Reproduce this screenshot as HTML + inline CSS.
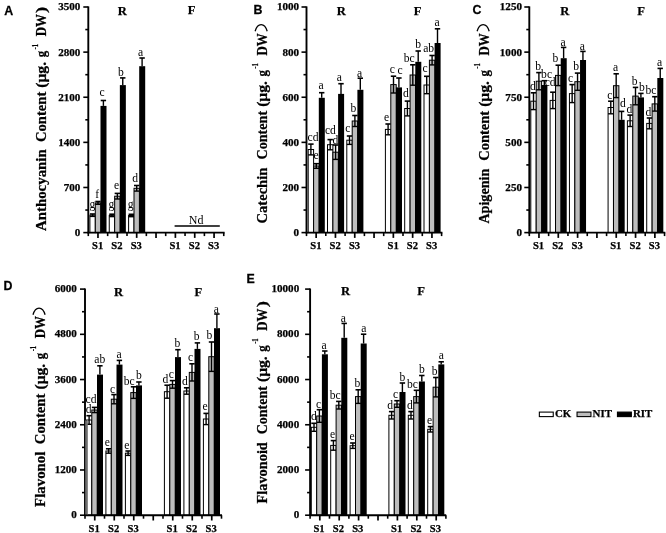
<!DOCTYPE html>
<html><head><meta charset="utf-8"><title>Figure</title>
<style>
html,body{margin:0;padding:0;background:#fff;}
body{width:666px;height:533px;overflow:hidden;}
svg{display:block;filter:blur(0.5px);}
.ser{font-family:"Liberation Serif",serif;}
.sans{font-family:"Liberation Sans",sans-serif;}
text{fill:#000;}
.b{stroke:#000;stroke-width:0.25px;}
</style></head>
<body>
<svg width="666" height="533" viewBox="0 0 666 533">
<rect x="0" y="0" width="666" height="533" fill="#fff"/>
<rect x="89.9" y="215.2" width="5.4" height="17.4" fill="#fff" stroke="#000" stroke-width="1.0"/>
<line x1="92.6" y1="214" x2="92.6" y2="216.4" stroke="#000" stroke-width="1.4"/>
<line x1="89.9" y1="214" x2="95.3" y2="214" stroke="#000" stroke-width="1.6"/>
<line x1="89.9" y1="216.4" x2="95.3" y2="216.4" stroke="#000" stroke-width="1.4"/>
<rect x="95.3" y="202.9" width="5.4" height="29.7" fill="#bdbdbd" stroke="#000" stroke-width="1.0"/>
<line x1="98" y1="201.5" x2="98" y2="204.3" stroke="#000" stroke-width="1.4"/>
<line x1="95.3" y1="201.5" x2="100.7" y2="201.5" stroke="#000" stroke-width="1.6"/>
<line x1="95.3" y1="204.3" x2="100.7" y2="204.3" stroke="#000" stroke-width="1.4"/>
<rect x="100.5" y="105.9" width="6" height="126.7" fill="#000"/>
<line x1="103.4" y1="100.5" x2="103.4" y2="105.9" stroke="#000" stroke-width="1.4"/>
<line x1="100.7" y1="100.5" x2="106.1" y2="100.5" stroke="#000" stroke-width="1.6"/>
<rect x="109.25" y="215.4" width="5.4" height="17.2" fill="#fff" stroke="#000" stroke-width="1.0"/>
<line x1="111.95" y1="214.2" x2="111.95" y2="216.6" stroke="#000" stroke-width="1.4"/>
<line x1="109.25" y1="214.2" x2="114.65" y2="214.2" stroke="#000" stroke-width="1.6"/>
<line x1="109.25" y1="216.6" x2="114.65" y2="216.6" stroke="#000" stroke-width="1.4"/>
<rect x="114.65" y="196.2" width="5.4" height="36.4" fill="#bdbdbd" stroke="#000" stroke-width="1.0"/>
<line x1="117.35" y1="193.4" x2="117.35" y2="199" stroke="#000" stroke-width="1.4"/>
<line x1="114.65" y1="193.4" x2="120.05" y2="193.4" stroke="#000" stroke-width="1.6"/>
<line x1="114.65" y1="199" x2="120.05" y2="199" stroke="#000" stroke-width="1.4"/>
<rect x="119.85" y="85.1" width="6" height="147.5" fill="#000"/>
<line x1="122.75" y1="77.9" x2="122.75" y2="85.1" stroke="#000" stroke-width="1.4"/>
<line x1="120.05" y1="77.9" x2="125.45" y2="77.9" stroke="#000" stroke-width="1.6"/>
<rect x="128.6" y="215.5" width="5.4" height="17.1" fill="#fff" stroke="#000" stroke-width="1.0"/>
<line x1="131.3" y1="214.3" x2="131.3" y2="216.7" stroke="#000" stroke-width="1.4"/>
<line x1="128.6" y1="214.3" x2="134" y2="214.3" stroke="#000" stroke-width="1.6"/>
<line x1="128.6" y1="216.7" x2="134" y2="216.7" stroke="#000" stroke-width="1.4"/>
<rect x="134" y="188.3" width="5.4" height="44.3" fill="#bdbdbd" stroke="#000" stroke-width="1.0"/>
<line x1="136.7" y1="185.5" x2="136.7" y2="191.1" stroke="#000" stroke-width="1.4"/>
<line x1="134" y1="185.5" x2="139.4" y2="185.5" stroke="#000" stroke-width="1.6"/>
<line x1="134" y1="191.1" x2="139.4" y2="191.1" stroke="#000" stroke-width="1.4"/>
<rect x="139.2" y="66.2" width="6" height="166.4" fill="#000"/>
<line x1="142.1" y1="58" x2="142.1" y2="66.2" stroke="#000" stroke-width="1.4"/>
<line x1="139.4" y1="58" x2="144.8" y2="58" stroke="#000" stroke-width="1.6"/>
<line x1="88.3" y1="6.4" x2="88.3" y2="233.35" stroke="#000" stroke-width="1.9"/>
<line x1="87.55" y1="232.6" x2="224.6" y2="232.6" stroke="#000" stroke-width="1.9"/>
<line x1="83.3" y1="232.6" x2="88.3" y2="232.6" stroke="#000" stroke-width="1.6"/>
<text x="80.4" y="236.05" font-size="10.6" class="ser b" font-weight="bold" text-anchor="end" textLength="5.55" lengthAdjust="spacingAndGlyphs">0</text>
<line x1="85.3" y1="210.04" x2="88.3" y2="210.04" stroke="#000" stroke-width="1.6"/>
<line x1="83.3" y1="187.48" x2="88.3" y2="187.48" stroke="#000" stroke-width="1.6"/>
<text x="80.4" y="190.93" font-size="10.6" class="ser b" font-weight="bold" text-anchor="end" textLength="16.65" lengthAdjust="spacingAndGlyphs">700</text>
<line x1="85.3" y1="164.92" x2="88.3" y2="164.92" stroke="#000" stroke-width="1.6"/>
<line x1="83.3" y1="142.36" x2="88.3" y2="142.36" stroke="#000" stroke-width="1.6"/>
<text x="80.4" y="145.81" font-size="10.6" class="ser b" font-weight="bold" text-anchor="end" textLength="22.2" lengthAdjust="spacingAndGlyphs">1400</text>
<line x1="85.3" y1="119.8" x2="88.3" y2="119.8" stroke="#000" stroke-width="1.6"/>
<line x1="83.3" y1="97.24" x2="88.3" y2="97.24" stroke="#000" stroke-width="1.6"/>
<text x="80.4" y="100.69" font-size="10.6" class="ser b" font-weight="bold" text-anchor="end" textLength="22.2" lengthAdjust="spacingAndGlyphs">2100</text>
<line x1="85.3" y1="74.68" x2="88.3" y2="74.68" stroke="#000" stroke-width="1.6"/>
<line x1="83.3" y1="52.12" x2="88.3" y2="52.12" stroke="#000" stroke-width="1.6"/>
<text x="80.4" y="55.57" font-size="10.6" class="ser b" font-weight="bold" text-anchor="end" textLength="22.2" lengthAdjust="spacingAndGlyphs">2800</text>
<line x1="85.3" y1="29.56" x2="88.3" y2="29.56" stroke="#000" stroke-width="1.6"/>
<line x1="83.3" y1="7" x2="88.3" y2="7" stroke="#000" stroke-width="1.6"/>
<text x="80.4" y="10.45" font-size="10.6" class="ser b" font-weight="bold" text-anchor="end" textLength="22.2" lengthAdjust="spacingAndGlyphs">3500</text>
<line x1="88.3" y1="232.6" x2="88.3" y2="236.1" stroke="#000" stroke-width="1.6"/>
<line x1="97.97" y1="232.6" x2="97.97" y2="237.9" stroke="#000" stroke-width="1.7"/>
<line x1="107.65" y1="232.6" x2="107.65" y2="236.1" stroke="#000" stroke-width="1.6"/>
<line x1="117.33" y1="232.6" x2="117.33" y2="237.9" stroke="#000" stroke-width="1.7"/>
<line x1="127" y1="232.6" x2="127" y2="236.1" stroke="#000" stroke-width="1.6"/>
<line x1="136.68" y1="232.6" x2="136.68" y2="237.9" stroke="#000" stroke-width="1.7"/>
<line x1="146.35" y1="232.6" x2="146.35" y2="236.1" stroke="#000" stroke-width="1.6"/>
<line x1="156.03" y1="232.6" x2="156.03" y2="237.9" stroke="#000" stroke-width="1.7"/>
<line x1="165.7" y1="232.6" x2="165.7" y2="236.1" stroke="#000" stroke-width="1.6"/>
<line x1="175.38" y1="232.6" x2="175.38" y2="237.9" stroke="#000" stroke-width="1.7"/>
<line x1="185.05" y1="232.6" x2="185.05" y2="236.1" stroke="#000" stroke-width="1.6"/>
<line x1="194.73" y1="232.6" x2="194.73" y2="237.9" stroke="#000" stroke-width="1.7"/>
<line x1="204.4" y1="232.6" x2="204.4" y2="236.1" stroke="#000" stroke-width="1.6"/>
<line x1="214.07" y1="232.6" x2="214.07" y2="237.9" stroke="#000" stroke-width="1.7"/>
<line x1="223.75" y1="232.6" x2="223.75" y2="236.1" stroke="#000" stroke-width="1.6"/>
<text x="97.6" y="249.3" font-size="10.6" class="ser b" font-weight="bold" text-anchor="middle">S1</text>
<text x="116.95" y="249.3" font-size="10.6" class="ser b" font-weight="bold" text-anchor="middle">S2</text>
<text x="136.3" y="249.3" font-size="10.6" class="ser b" font-weight="bold" text-anchor="middle">S3</text>
<text x="175" y="249.3" font-size="10.6" class="ser b" font-weight="bold" text-anchor="middle">S1</text>
<text x="194.35" y="249.3" font-size="10.6" class="ser b" font-weight="bold" text-anchor="middle">S2</text>
<text x="213.7" y="249.3" font-size="10.6" class="ser b" font-weight="bold" text-anchor="middle">S3</text>
<text x="122.3" y="15" font-size="12.6" class="ser b" font-weight="bold" text-anchor="middle">R</text>
<text x="191.5" y="13.8" font-size="12.6" class="ser b" font-weight="bold" text-anchor="middle">F</text>
<text transform="translate(4.2,14.7) scale(1,1.03)" font-size="12.4" class="sans b" font-weight="bold">A</text>
<text transform="translate(46.3,231.05) rotate(-90)" font-size="14.5" class="ser b" font-weight="bold" textLength="81.8" lengthAdjust="spacingAndGlyphs">Anthocyanin</text>
<text transform="translate(46.3,141.95) rotate(-90)" font-size="14.5" class="ser b" font-weight="bold" textLength="50.2" lengthAdjust="spacingAndGlyphs">Content</text>
<text transform="translate(46.3,87.75) rotate(-90)" font-size="14.5" class="ser b" font-weight="bold" textLength="25.8" lengthAdjust="spacingAndGlyphs">(μg.</text>
<text transform="translate(46.3,57.35) rotate(-90)" font-size="14.5" class="ser b" font-weight="bold" textLength="6.4" lengthAdjust="spacingAndGlyphs">g</text>
<text transform="translate(37.7,49.55) rotate(-90)" font-size="9.2" class="ser b" font-weight="bold" textLength="5.5" lengthAdjust="spacingAndGlyphs">-1</text>
<text transform="translate(46.3,36.35) rotate(-90)" font-size="14.5" class="ser b" font-weight="bold" textLength="22.1" lengthAdjust="spacingAndGlyphs">DW</text>
<text transform="translate(46.3,12.95) rotate(-90)" font-size="14.5" class="ser b" font-weight="bold" textLength="6.3" lengthAdjust="spacingAndGlyphs">)</text>
<text x="102.2" y="95.9" font-size="11.6" class="ser" font-weight="normal" text-anchor="middle">c</text>
<text x="121" y="75.5" font-size="11.6" class="ser" font-weight="normal" text-anchor="middle">b</text>
<text x="140.5" y="56" font-size="11.6" class="ser" font-weight="normal" text-anchor="middle">a</text>
<text x="92.4" y="208" font-size="11.6" class="ser" font-weight="normal" text-anchor="middle">g</text>
<text x="97.2" y="197.8" font-size="11.6" class="ser" font-weight="normal" text-anchor="middle">f</text>
<text x="111.4" y="208" font-size="11.6" class="ser" font-weight="normal" text-anchor="middle">g</text>
<text x="116.5" y="188.6" font-size="11.6" class="ser" font-weight="normal" text-anchor="middle">e</text>
<text x="130.6" y="208" font-size="11.6" class="ser" font-weight="normal" text-anchor="middle">g</text>
<text x="135.2" y="181.6" font-size="11.6" class="ser" font-weight="normal" text-anchor="middle">d</text>
<line x1="174.6" y1="226" x2="219.8" y2="226" stroke="#000" stroke-width="1.5"/>
<text x="196.2" y="224.1" font-size="12" class="ser" font-weight="normal" text-anchor="middle">Nd</text>
<rect x="308.2" y="149.5" width="5.4" height="83.1" fill="#fff" stroke="#000" stroke-width="1.0"/>
<line x1="310.9" y1="144.1" x2="310.9" y2="154.9" stroke="#000" stroke-width="1.4"/>
<line x1="308.2" y1="144.1" x2="313.6" y2="144.1" stroke="#000" stroke-width="1.6"/>
<line x1="308.2" y1="154.9" x2="313.6" y2="154.9" stroke="#000" stroke-width="1.4"/>
<rect x="313.6" y="166" width="5.4" height="66.6" fill="#bdbdbd" stroke="#000" stroke-width="1.0"/>
<line x1="316.3" y1="163.7" x2="316.3" y2="168.3" stroke="#000" stroke-width="1.4"/>
<line x1="313.6" y1="163.7" x2="319" y2="163.7" stroke="#000" stroke-width="1.6"/>
<line x1="313.6" y1="168.3" x2="319" y2="168.3" stroke="#000" stroke-width="1.4"/>
<rect x="318.8" y="97.8" width="6" height="134.8" fill="#000"/>
<line x1="321.7" y1="92.7" x2="321.7" y2="97.8" stroke="#000" stroke-width="1.4"/>
<line x1="319" y1="92.7" x2="324.4" y2="92.7" stroke="#000" stroke-width="1.6"/>
<rect x="327.5" y="144.7" width="5.4" height="87.9" fill="#fff" stroke="#000" stroke-width="1.0"/>
<line x1="330.2" y1="139.6" x2="330.2" y2="149.8" stroke="#000" stroke-width="1.4"/>
<line x1="327.5" y1="139.6" x2="332.9" y2="139.6" stroke="#000" stroke-width="1.6"/>
<line x1="327.5" y1="149.8" x2="332.9" y2="149.8" stroke="#000" stroke-width="1.4"/>
<rect x="332.9" y="152.2" width="5.4" height="80.4" fill="#bdbdbd" stroke="#000" stroke-width="1.0"/>
<line x1="335.6" y1="145" x2="335.6" y2="159.4" stroke="#000" stroke-width="1.4"/>
<line x1="332.9" y1="145" x2="338.3" y2="145" stroke="#000" stroke-width="1.6"/>
<line x1="332.9" y1="159.4" x2="338.3" y2="159.4" stroke="#000" stroke-width="1.4"/>
<rect x="338.1" y="93.9" width="6" height="138.7" fill="#000"/>
<line x1="341" y1="83.7" x2="341" y2="93.9" stroke="#000" stroke-width="1.4"/>
<line x1="338.3" y1="83.7" x2="343.7" y2="83.7" stroke="#000" stroke-width="1.6"/>
<rect x="346.8" y="140.2" width="5.4" height="92.4" fill="#fff" stroke="#000" stroke-width="1.0"/>
<line x1="349.5" y1="136" x2="349.5" y2="144.4" stroke="#000" stroke-width="1.4"/>
<line x1="346.8" y1="136" x2="352.2" y2="136" stroke="#000" stroke-width="1.6"/>
<line x1="346.8" y1="144.4" x2="352.2" y2="144.4" stroke="#000" stroke-width="1.4"/>
<rect x="352.2" y="121" width="5.4" height="111.6" fill="#bdbdbd" stroke="#000" stroke-width="1.0"/>
<line x1="354.9" y1="115.5" x2="354.9" y2="126.5" stroke="#000" stroke-width="1.4"/>
<line x1="352.2" y1="115.5" x2="357.6" y2="115.5" stroke="#000" stroke-width="1.6"/>
<line x1="352.2" y1="126.5" x2="357.6" y2="126.5" stroke="#000" stroke-width="1.4"/>
<rect x="357.4" y="89.8" width="6" height="142.8" fill="#000"/>
<line x1="360.3" y1="78.2" x2="360.3" y2="89.8" stroke="#000" stroke-width="1.4"/>
<line x1="357.6" y1="78.2" x2="363" y2="78.2" stroke="#000" stroke-width="1.6"/>
<rect x="385.4" y="129.4" width="5.4" height="103.2" fill="#fff" stroke="#000" stroke-width="1.0"/>
<line x1="388.1" y1="124" x2="388.1" y2="134.8" stroke="#000" stroke-width="1.4"/>
<line x1="385.4" y1="124" x2="390.8" y2="124" stroke="#000" stroke-width="1.6"/>
<line x1="385.4" y1="134.8" x2="390.8" y2="134.8" stroke="#000" stroke-width="1.4"/>
<rect x="390.8" y="84.6" width="5.4" height="148" fill="#bdbdbd" stroke="#000" stroke-width="1.0"/>
<line x1="393.5" y1="76.2" x2="393.5" y2="93" stroke="#000" stroke-width="1.4"/>
<line x1="390.8" y1="76.2" x2="396.2" y2="76.2" stroke="#000" stroke-width="1.6"/>
<line x1="390.8" y1="93" x2="396.2" y2="93" stroke="#000" stroke-width="1.4"/>
<rect x="396" y="87.4" width="6" height="145.2" fill="#000"/>
<line x1="398.9" y1="78" x2="398.9" y2="87.4" stroke="#000" stroke-width="1.4"/>
<line x1="396.2" y1="78" x2="401.6" y2="78" stroke="#000" stroke-width="1.6"/>
<rect x="404.7" y="108.5" width="5.4" height="124.1" fill="#fff" stroke="#000" stroke-width="1.0"/>
<line x1="407.4" y1="101.1" x2="407.4" y2="115.9" stroke="#000" stroke-width="1.4"/>
<line x1="404.7" y1="101.1" x2="410.1" y2="101.1" stroke="#000" stroke-width="1.6"/>
<line x1="404.7" y1="115.9" x2="410.1" y2="115.9" stroke="#000" stroke-width="1.4"/>
<rect x="410.1" y="75" width="5.4" height="157.6" fill="#bdbdbd" stroke="#000" stroke-width="1.0"/>
<line x1="412.8" y1="64.8" x2="412.8" y2="85.2" stroke="#000" stroke-width="1.4"/>
<line x1="410.1" y1="64.8" x2="415.5" y2="64.8" stroke="#000" stroke-width="1.6"/>
<line x1="410.1" y1="85.2" x2="415.5" y2="85.2" stroke="#000" stroke-width="1.4"/>
<rect x="415.3" y="61.8" width="6" height="170.8" fill="#000"/>
<line x1="418.2" y1="51" x2="418.2" y2="61.8" stroke="#000" stroke-width="1.4"/>
<line x1="415.5" y1="51" x2="420.9" y2="51" stroke="#000" stroke-width="1.6"/>
<rect x="424" y="85" width="5.4" height="147.6" fill="#fff" stroke="#000" stroke-width="1.0"/>
<line x1="426.7" y1="76.3" x2="426.7" y2="93.7" stroke="#000" stroke-width="1.4"/>
<line x1="424" y1="76.3" x2="429.4" y2="76.3" stroke="#000" stroke-width="1.6"/>
<line x1="424" y1="93.7" x2="429.4" y2="93.7" stroke="#000" stroke-width="1.4"/>
<rect x="429.4" y="60.2" width="5.4" height="172.4" fill="#bdbdbd" stroke="#000" stroke-width="1.0"/>
<line x1="432.1" y1="55.5" x2="432.1" y2="64.9" stroke="#000" stroke-width="1.4"/>
<line x1="429.4" y1="55.5" x2="434.8" y2="55.5" stroke="#000" stroke-width="1.6"/>
<line x1="429.4" y1="64.9" x2="434.8" y2="64.9" stroke="#000" stroke-width="1.4"/>
<rect x="434.6" y="43" width="6" height="189.6" fill="#000"/>
<line x1="437.5" y1="28.8" x2="437.5" y2="43" stroke="#000" stroke-width="1.4"/>
<line x1="434.8" y1="28.8" x2="440.2" y2="28.8" stroke="#000" stroke-width="1.6"/>
<line x1="306.5" y1="6.4" x2="306.5" y2="233.35" stroke="#000" stroke-width="1.9"/>
<line x1="305.75" y1="232.6" x2="442.4" y2="232.6" stroke="#000" stroke-width="1.9"/>
<line x1="301.5" y1="232.6" x2="306.5" y2="232.6" stroke="#000" stroke-width="1.6"/>
<text x="299.1" y="236.05" font-size="10.6" class="ser b" font-weight="bold" text-anchor="end" textLength="5.55" lengthAdjust="spacingAndGlyphs">0</text>
<line x1="303.5" y1="210.04" x2="306.5" y2="210.04" stroke="#000" stroke-width="1.6"/>
<line x1="301.5" y1="187.48" x2="306.5" y2="187.48" stroke="#000" stroke-width="1.6"/>
<text x="299.1" y="190.93" font-size="10.6" class="ser b" font-weight="bold" text-anchor="end" textLength="16.65" lengthAdjust="spacingAndGlyphs">200</text>
<line x1="303.5" y1="164.92" x2="306.5" y2="164.92" stroke="#000" stroke-width="1.6"/>
<line x1="301.5" y1="142.36" x2="306.5" y2="142.36" stroke="#000" stroke-width="1.6"/>
<text x="299.1" y="145.81" font-size="10.6" class="ser b" font-weight="bold" text-anchor="end" textLength="16.65" lengthAdjust="spacingAndGlyphs">400</text>
<line x1="303.5" y1="119.8" x2="306.5" y2="119.8" stroke="#000" stroke-width="1.6"/>
<line x1="301.5" y1="97.24" x2="306.5" y2="97.24" stroke="#000" stroke-width="1.6"/>
<text x="299.1" y="100.69" font-size="10.6" class="ser b" font-weight="bold" text-anchor="end" textLength="16.65" lengthAdjust="spacingAndGlyphs">600</text>
<line x1="303.5" y1="74.68" x2="306.5" y2="74.68" stroke="#000" stroke-width="1.6"/>
<line x1="301.5" y1="52.12" x2="306.5" y2="52.12" stroke="#000" stroke-width="1.6"/>
<text x="299.1" y="55.57" font-size="10.6" class="ser b" font-weight="bold" text-anchor="end" textLength="16.65" lengthAdjust="spacingAndGlyphs">800</text>
<line x1="303.5" y1="29.56" x2="306.5" y2="29.56" stroke="#000" stroke-width="1.6"/>
<line x1="301.5" y1="7" x2="306.5" y2="7" stroke="#000" stroke-width="1.6"/>
<text x="299.1" y="10.45" font-size="10.6" class="ser b" font-weight="bold" text-anchor="end" textLength="22.2" lengthAdjust="spacingAndGlyphs">1000</text>
<line x1="306.5" y1="232.6" x2="306.5" y2="236.1" stroke="#000" stroke-width="1.6"/>
<line x1="316.15" y1="232.6" x2="316.15" y2="237.9" stroke="#000" stroke-width="1.7"/>
<line x1="325.8" y1="232.6" x2="325.8" y2="236.1" stroke="#000" stroke-width="1.6"/>
<line x1="335.45" y1="232.6" x2="335.45" y2="237.9" stroke="#000" stroke-width="1.7"/>
<line x1="345.1" y1="232.6" x2="345.1" y2="236.1" stroke="#000" stroke-width="1.6"/>
<line x1="354.75" y1="232.6" x2="354.75" y2="237.9" stroke="#000" stroke-width="1.7"/>
<line x1="364.4" y1="232.6" x2="364.4" y2="236.1" stroke="#000" stroke-width="1.6"/>
<line x1="374.05" y1="232.6" x2="374.05" y2="237.9" stroke="#000" stroke-width="1.7"/>
<line x1="383.7" y1="232.6" x2="383.7" y2="236.1" stroke="#000" stroke-width="1.6"/>
<line x1="393.35" y1="232.6" x2="393.35" y2="237.9" stroke="#000" stroke-width="1.7"/>
<line x1="403" y1="232.6" x2="403" y2="236.1" stroke="#000" stroke-width="1.6"/>
<line x1="412.65" y1="232.6" x2="412.65" y2="237.9" stroke="#000" stroke-width="1.7"/>
<line x1="422.3" y1="232.6" x2="422.3" y2="236.1" stroke="#000" stroke-width="1.6"/>
<line x1="431.95" y1="232.6" x2="431.95" y2="237.9" stroke="#000" stroke-width="1.7"/>
<line x1="441.6" y1="232.6" x2="441.6" y2="236.1" stroke="#000" stroke-width="1.6"/>
<text x="315.9" y="249.3" font-size="10.6" class="ser b" font-weight="bold" text-anchor="middle">S1</text>
<text x="335.2" y="249.3" font-size="10.6" class="ser b" font-weight="bold" text-anchor="middle">S2</text>
<text x="354.5" y="249.3" font-size="10.6" class="ser b" font-weight="bold" text-anchor="middle">S3</text>
<text x="393.1" y="249.3" font-size="10.6" class="ser b" font-weight="bold" text-anchor="middle">S1</text>
<text x="412.4" y="249.3" font-size="10.6" class="ser b" font-weight="bold" text-anchor="middle">S2</text>
<text x="431.7" y="249.3" font-size="10.6" class="ser b" font-weight="bold" text-anchor="middle">S3</text>
<text x="341.2" y="14.5" font-size="12.6" class="ser b" font-weight="bold" text-anchor="middle">R</text>
<text x="417.7" y="14.5" font-size="12.6" class="ser b" font-weight="bold" text-anchor="middle">F</text>
<text transform="translate(253.5,13.8) scale(1,1.03)" font-size="12.4" class="sans b" font-weight="bold">B</text>
<text transform="translate(266.8,223.45) rotate(-90)" font-size="14.5" class="ser b" font-weight="bold" textLength="55.8" lengthAdjust="spacingAndGlyphs">Catechin</text>
<text transform="translate(266.8,159.55) rotate(-90)" font-size="14.5" class="ser b" font-weight="bold" textLength="48.7" lengthAdjust="spacingAndGlyphs">Content</text>
<text transform="translate(266.8,106.85) rotate(-90)" font-size="14.5" class="ser b" font-weight="bold" textLength="25.8" lengthAdjust="spacingAndGlyphs">(μg.</text>
<text transform="translate(266.8,76.45) rotate(-90)" font-size="14.5" class="ser b" font-weight="bold" textLength="6.4" lengthAdjust="spacingAndGlyphs">g</text>
<text transform="translate(258.2,68.65) rotate(-90)" font-size="9.2" class="ser b" font-weight="bold" textLength="5.5" lengthAdjust="spacingAndGlyphs">-1</text>
<text transform="translate(266.8,55.45) rotate(-90)" font-size="14.5" class="ser b" font-weight="bold" textLength="22.1" lengthAdjust="spacingAndGlyphs">DW</text>
<path d="M255.1,31.2 C257.6,22.3 264.7,22.3 267.2,31.2" fill="none" stroke="#000" stroke-width="1.3"/>
<text x="321" y="89" font-size="11.6" class="ser" font-weight="normal" text-anchor="middle">a</text>
<text x="339.4" y="81.4" font-size="11.6" class="ser" font-weight="normal" text-anchor="middle">a</text>
<text x="359.7" y="76.6" font-size="11.6" class="ser" font-weight="normal" text-anchor="middle">a</text>
<text x="353.5" y="111.6" font-size="11.6" class="ser" font-weight="normal" text-anchor="middle">b</text>
<text x="313" y="140.8" font-size="11.6" class="ser" font-weight="normal" text-anchor="middle">cd</text>
<text x="316.2" y="159.4" font-size="11.6" class="ser" font-weight="normal" text-anchor="middle">e</text>
<text x="330.4" y="133.6" font-size="11.6" class="ser" font-weight="normal" text-anchor="middle">cd</text>
<text x="335.4" y="143.8" font-size="11.6" class="ser" font-weight="normal" text-anchor="middle">d</text>
<text x="347.8" y="132.4" font-size="11.6" class="ser" font-weight="normal" text-anchor="middle">c</text>
<text x="437.1" y="25.8" font-size="11.6" class="ser" font-weight="normal" text-anchor="middle">a</text>
<text x="418.2" y="47.8" font-size="11.6" class="ser" font-weight="normal" text-anchor="middle">b</text>
<text x="428.7" y="52.2" font-size="11.6" class="ser" font-weight="normal" text-anchor="middle">ab</text>
<text x="409.2" y="61.5" font-size="11.6" class="ser" font-weight="normal" text-anchor="middle">bc</text>
<text x="392.4" y="72.7" font-size="11.6" class="ser" font-weight="normal" text-anchor="middle">c</text>
<text x="400.2" y="73.9" font-size="11.6" class="ser" font-weight="normal" text-anchor="middle">c</text>
<text x="425.2" y="71.9" font-size="11.6" class="ser" font-weight="normal" text-anchor="middle">c</text>
<text x="406" y="96.6" font-size="11.6" class="ser" font-weight="normal" text-anchor="middle">d</text>
<text x="386.7" y="120.9" font-size="11.6" class="ser" font-weight="normal" text-anchor="middle">e</text>
<rect x="530.8" y="101.2" width="5.4" height="131.4" fill="#fff" stroke="#000" stroke-width="1.0"/>
<line x1="533.5" y1="92.8" x2="533.5" y2="109.6" stroke="#000" stroke-width="1.4"/>
<line x1="530.8" y1="92.8" x2="536.2" y2="92.8" stroke="#000" stroke-width="1.6"/>
<line x1="530.8" y1="109.6" x2="536.2" y2="109.6" stroke="#000" stroke-width="1.4"/>
<rect x="536.2" y="81.2" width="5.4" height="151.4" fill="#bdbdbd" stroke="#000" stroke-width="1.0"/>
<line x1="538.9" y1="72.6" x2="538.9" y2="89.8" stroke="#000" stroke-width="1.4"/>
<line x1="536.2" y1="72.6" x2="541.6" y2="72.6" stroke="#000" stroke-width="1.6"/>
<line x1="536.2" y1="89.8" x2="541.6" y2="89.8" stroke="#000" stroke-width="1.4"/>
<rect x="541.4" y="85" width="6" height="147.6" fill="#000"/>
<line x1="544.3" y1="80.7" x2="544.3" y2="85" stroke="#000" stroke-width="1.4"/>
<line x1="541.6" y1="80.7" x2="547" y2="80.7" stroke="#000" stroke-width="1.6"/>
<rect x="550.12" y="100.4" width="5.4" height="132.2" fill="#fff" stroke="#000" stroke-width="1.0"/>
<line x1="552.82" y1="92.2" x2="552.82" y2="108.6" stroke="#000" stroke-width="1.4"/>
<line x1="550.12" y1="92.2" x2="555.52" y2="92.2" stroke="#000" stroke-width="1.6"/>
<line x1="550.12" y1="108.6" x2="555.52" y2="108.6" stroke="#000" stroke-width="1.4"/>
<rect x="555.52" y="75.4" width="5.4" height="157.2" fill="#bdbdbd" stroke="#000" stroke-width="1.0"/>
<line x1="558.22" y1="65.2" x2="558.22" y2="85.6" stroke="#000" stroke-width="1.4"/>
<line x1="555.52" y1="65.2" x2="560.92" y2="65.2" stroke="#000" stroke-width="1.6"/>
<line x1="555.52" y1="85.6" x2="560.92" y2="85.6" stroke="#000" stroke-width="1.4"/>
<rect x="560.72" y="58.2" width="6" height="174.4" fill="#000"/>
<line x1="563.62" y1="47.4" x2="563.62" y2="58.2" stroke="#000" stroke-width="1.4"/>
<line x1="560.92" y1="47.4" x2="566.32" y2="47.4" stroke="#000" stroke-width="1.6"/>
<rect x="569.44" y="93.6" width="5.4" height="139" fill="#fff" stroke="#000" stroke-width="1.0"/>
<line x1="572.14" y1="84.6" x2="572.14" y2="102.6" stroke="#000" stroke-width="1.4"/>
<line x1="569.44" y1="84.6" x2="574.84" y2="84.6" stroke="#000" stroke-width="1.6"/>
<line x1="569.44" y1="102.6" x2="574.84" y2="102.6" stroke="#000" stroke-width="1.4"/>
<rect x="574.84" y="81.7" width="5.4" height="150.9" fill="#bdbdbd" stroke="#000" stroke-width="1.0"/>
<line x1="577.54" y1="73.1" x2="577.54" y2="90.3" stroke="#000" stroke-width="1.4"/>
<line x1="574.84" y1="73.1" x2="580.24" y2="73.1" stroke="#000" stroke-width="1.6"/>
<line x1="574.84" y1="90.3" x2="580.24" y2="90.3" stroke="#000" stroke-width="1.4"/>
<rect x="580.04" y="60" width="6" height="172.6" fill="#000"/>
<line x1="582.94" y1="51.4" x2="582.94" y2="60" stroke="#000" stroke-width="1.4"/>
<line x1="580.24" y1="51.4" x2="585.64" y2="51.4" stroke="#000" stroke-width="1.6"/>
<rect x="608.08" y="107.5" width="5.4" height="125.1" fill="#fff" stroke="#000" stroke-width="1.0"/>
<line x1="610.78" y1="101.2" x2="610.78" y2="113.8" stroke="#000" stroke-width="1.4"/>
<line x1="608.08" y1="101.2" x2="613.48" y2="101.2" stroke="#000" stroke-width="1.6"/>
<line x1="608.08" y1="113.8" x2="613.48" y2="113.8" stroke="#000" stroke-width="1.4"/>
<rect x="613.48" y="85.7" width="5.4" height="146.9" fill="#bdbdbd" stroke="#000" stroke-width="1.0"/>
<line x1="616.18" y1="73.8" x2="616.18" y2="97.6" stroke="#000" stroke-width="1.4"/>
<line x1="613.48" y1="73.8" x2="618.88" y2="73.8" stroke="#000" stroke-width="1.6"/>
<line x1="613.48" y1="97.6" x2="618.88" y2="97.6" stroke="#000" stroke-width="1.4"/>
<rect x="618.68" y="119.8" width="6" height="112.8" fill="#000"/>
<line x1="621.58" y1="111.4" x2="621.58" y2="119.8" stroke="#000" stroke-width="1.4"/>
<line x1="618.88" y1="111.4" x2="624.28" y2="111.4" stroke="#000" stroke-width="1.6"/>
<rect x="627.4" y="120.8" width="5.4" height="111.8" fill="#fff" stroke="#000" stroke-width="1.0"/>
<line x1="630.1" y1="115.1" x2="630.1" y2="126.5" stroke="#000" stroke-width="1.4"/>
<line x1="627.4" y1="115.1" x2="632.8" y2="115.1" stroke="#000" stroke-width="1.6"/>
<line x1="627.4" y1="126.5" x2="632.8" y2="126.5" stroke="#000" stroke-width="1.4"/>
<rect x="632.8" y="96.1" width="5.4" height="136.5" fill="#bdbdbd" stroke="#000" stroke-width="1.0"/>
<line x1="635.5" y1="87.4" x2="635.5" y2="104.8" stroke="#000" stroke-width="1.4"/>
<line x1="632.8" y1="87.4" x2="638.2" y2="87.4" stroke="#000" stroke-width="1.6"/>
<line x1="632.8" y1="104.8" x2="638.2" y2="104.8" stroke="#000" stroke-width="1.4"/>
<rect x="638" y="97.4" width="6" height="135.2" fill="#000"/>
<line x1="640.9" y1="93.4" x2="640.9" y2="97.4" stroke="#000" stroke-width="1.4"/>
<line x1="638.2" y1="93.4" x2="643.6" y2="93.4" stroke="#000" stroke-width="1.6"/>
<rect x="646.72" y="123.4" width="5.4" height="109.2" fill="#fff" stroke="#000" stroke-width="1.0"/>
<line x1="649.42" y1="118" x2="649.42" y2="128.8" stroke="#000" stroke-width="1.4"/>
<line x1="646.72" y1="118" x2="652.12" y2="118" stroke="#000" stroke-width="1.6"/>
<line x1="646.72" y1="128.8" x2="652.12" y2="128.8" stroke="#000" stroke-width="1.4"/>
<rect x="652.12" y="103.9" width="5.4" height="128.7" fill="#bdbdbd" stroke="#000" stroke-width="1.0"/>
<line x1="654.82" y1="96.7" x2="654.82" y2="111.1" stroke="#000" stroke-width="1.4"/>
<line x1="652.12" y1="96.7" x2="657.52" y2="96.7" stroke="#000" stroke-width="1.6"/>
<line x1="652.12" y1="111.1" x2="657.52" y2="111.1" stroke="#000" stroke-width="1.4"/>
<rect x="657.32" y="78" width="6" height="154.6" fill="#000"/>
<line x1="660.22" y1="68.4" x2="660.22" y2="78" stroke="#000" stroke-width="1.4"/>
<line x1="657.52" y1="68.4" x2="662.92" y2="68.4" stroke="#000" stroke-width="1.6"/>
<line x1="529.3" y1="6.4" x2="529.3" y2="233.35" stroke="#000" stroke-width="1.9"/>
<line x1="528.55" y1="232.6" x2="665.3" y2="232.6" stroke="#000" stroke-width="1.9"/>
<line x1="524.3" y1="232.6" x2="529.3" y2="232.6" stroke="#000" stroke-width="1.6"/>
<text x="522" y="236.05" font-size="10.6" class="ser b" font-weight="bold" text-anchor="end" textLength="5.55" lengthAdjust="spacingAndGlyphs">0</text>
<line x1="526.3" y1="210.04" x2="529.3" y2="210.04" stroke="#000" stroke-width="1.6"/>
<line x1="524.3" y1="187.48" x2="529.3" y2="187.48" stroke="#000" stroke-width="1.6"/>
<text x="522" y="190.93" font-size="10.6" class="ser b" font-weight="bold" text-anchor="end" textLength="16.65" lengthAdjust="spacingAndGlyphs">250</text>
<line x1="526.3" y1="164.92" x2="529.3" y2="164.92" stroke="#000" stroke-width="1.6"/>
<line x1="524.3" y1="142.36" x2="529.3" y2="142.36" stroke="#000" stroke-width="1.6"/>
<text x="522" y="145.81" font-size="10.6" class="ser b" font-weight="bold" text-anchor="end" textLength="16.65" lengthAdjust="spacingAndGlyphs">500</text>
<line x1="526.3" y1="119.8" x2="529.3" y2="119.8" stroke="#000" stroke-width="1.6"/>
<line x1="524.3" y1="97.24" x2="529.3" y2="97.24" stroke="#000" stroke-width="1.6"/>
<text x="522" y="100.69" font-size="10.6" class="ser b" font-weight="bold" text-anchor="end" textLength="16.65" lengthAdjust="spacingAndGlyphs">750</text>
<line x1="526.3" y1="74.68" x2="529.3" y2="74.68" stroke="#000" stroke-width="1.6"/>
<line x1="524.3" y1="52.12" x2="529.3" y2="52.12" stroke="#000" stroke-width="1.6"/>
<text x="522" y="55.57" font-size="10.6" class="ser b" font-weight="bold" text-anchor="end" textLength="22.2" lengthAdjust="spacingAndGlyphs">1000</text>
<line x1="526.3" y1="29.56" x2="529.3" y2="29.56" stroke="#000" stroke-width="1.6"/>
<line x1="524.3" y1="7" x2="529.3" y2="7" stroke="#000" stroke-width="1.6"/>
<text x="522" y="10.45" font-size="10.6" class="ser b" font-weight="bold" text-anchor="end" textLength="22.2" lengthAdjust="spacingAndGlyphs">1250</text>
<line x1="529.3" y1="232.6" x2="529.3" y2="236.1" stroke="#000" stroke-width="1.6"/>
<line x1="538.96" y1="232.6" x2="538.96" y2="237.9" stroke="#000" stroke-width="1.7"/>
<line x1="548.62" y1="232.6" x2="548.62" y2="236.1" stroke="#000" stroke-width="1.6"/>
<line x1="558.28" y1="232.6" x2="558.28" y2="237.9" stroke="#000" stroke-width="1.7"/>
<line x1="567.94" y1="232.6" x2="567.94" y2="236.1" stroke="#000" stroke-width="1.6"/>
<line x1="577.6" y1="232.6" x2="577.6" y2="237.9" stroke="#000" stroke-width="1.7"/>
<line x1="587.26" y1="232.6" x2="587.26" y2="236.1" stroke="#000" stroke-width="1.6"/>
<line x1="596.92" y1="232.6" x2="596.92" y2="237.9" stroke="#000" stroke-width="1.7"/>
<line x1="606.58" y1="232.6" x2="606.58" y2="236.1" stroke="#000" stroke-width="1.6"/>
<line x1="616.24" y1="232.6" x2="616.24" y2="237.9" stroke="#000" stroke-width="1.7"/>
<line x1="625.9" y1="232.6" x2="625.9" y2="236.1" stroke="#000" stroke-width="1.6"/>
<line x1="635.56" y1="232.6" x2="635.56" y2="237.9" stroke="#000" stroke-width="1.7"/>
<line x1="645.22" y1="232.6" x2="645.22" y2="236.1" stroke="#000" stroke-width="1.6"/>
<line x1="654.88" y1="232.6" x2="654.88" y2="237.9" stroke="#000" stroke-width="1.7"/>
<line x1="664.54" y1="232.6" x2="664.54" y2="236.1" stroke="#000" stroke-width="1.6"/>
<text x="538.5" y="249.3" font-size="10.6" class="ser b" font-weight="bold" text-anchor="middle">S1</text>
<text x="557.82" y="249.3" font-size="10.6" class="ser b" font-weight="bold" text-anchor="middle">S2</text>
<text x="577.14" y="249.3" font-size="10.6" class="ser b" font-weight="bold" text-anchor="middle">S3</text>
<text x="615.78" y="249.3" font-size="10.6" class="ser b" font-weight="bold" text-anchor="middle">S1</text>
<text x="635.1" y="249.3" font-size="10.6" class="ser b" font-weight="bold" text-anchor="middle">S2</text>
<text x="654.42" y="249.3" font-size="10.6" class="ser b" font-weight="bold" text-anchor="middle">S3</text>
<text x="564.9" y="14.5" font-size="12.6" class="ser b" font-weight="bold" text-anchor="middle">R</text>
<text x="641.1" y="14.5" font-size="12.6" class="ser b" font-weight="bold" text-anchor="middle">F</text>
<text transform="translate(472.6,13.9) scale(1,1.03)" font-size="12.4" class="sans b" font-weight="bold">C</text>
<text transform="translate(488.8,223.55) rotate(-90)" font-size="14.5" class="ser b" font-weight="bold" textLength="54.8" lengthAdjust="spacingAndGlyphs">Apigenin</text>
<text transform="translate(488.8,160.75) rotate(-90)" font-size="14.5" class="ser b" font-weight="bold" textLength="49.9" lengthAdjust="spacingAndGlyphs">Content</text>
<text transform="translate(488.8,106.85) rotate(-90)" font-size="14.5" class="ser b" font-weight="bold" textLength="25.8" lengthAdjust="spacingAndGlyphs">(μg.</text>
<text transform="translate(488.8,76.45) rotate(-90)" font-size="14.5" class="ser b" font-weight="bold" textLength="6.4" lengthAdjust="spacingAndGlyphs">g</text>
<text transform="translate(480.2,68.65) rotate(-90)" font-size="9.2" class="ser b" font-weight="bold" textLength="5.5" lengthAdjust="spacingAndGlyphs">-1</text>
<text transform="translate(488.8,55.45) rotate(-90)" font-size="14.5" class="ser b" font-weight="bold" textLength="22.1" lengthAdjust="spacingAndGlyphs">DW</text>
<path d="M477.1,31.2 C479.6,22.3 486.7,22.3 489.2,31.2" fill="none" stroke="#000" stroke-width="1.3"/>
<text x="563.2" y="45.6" font-size="11.6" class="ser" font-weight="normal" text-anchor="middle">a</text>
<text x="582.4" y="49.8" font-size="11.6" class="ser" font-weight="normal" text-anchor="middle">a</text>
<text x="555.3" y="61.8" font-size="11.6" class="ser" font-weight="normal" text-anchor="middle">b</text>
<text x="538.2" y="70.2" font-size="11.6" class="ser" font-weight="normal" text-anchor="middle">b</text>
<text x="546.6" y="77.7" font-size="11.6" class="ser" font-weight="normal" text-anchor="middle">bc</text>
<text x="550.2" y="86.1" font-size="11.6" class="ser" font-weight="normal" text-anchor="middle">cd</text>
<text x="576.2" y="70.2" font-size="11.6" class="ser" font-weight="normal" text-anchor="middle">b</text>
<text x="570.6" y="82" font-size="11.6" class="ser" font-weight="normal" text-anchor="middle">c</text>
<text x="532.8" y="90.2" font-size="11.6" class="ser" font-weight="normal" text-anchor="middle">d</text>
<text x="615.7" y="71.4" font-size="11.6" class="ser" font-weight="normal" text-anchor="middle">a</text>
<text x="659.5" y="66" font-size="11.6" class="ser" font-weight="normal" text-anchor="middle">a</text>
<text x="634.6" y="85.1" font-size="11.6" class="ser" font-weight="normal" text-anchor="middle">b</text>
<text x="641.9" y="90.5" font-size="11.6" class="ser" font-weight="normal" text-anchor="middle">b</text>
<text x="651" y="94.3" font-size="11.6" class="ser" font-weight="normal" text-anchor="middle">bc</text>
<text x="609.9" y="98.7" font-size="11.6" class="ser" font-weight="normal" text-anchor="middle">c</text>
<text x="623" y="107" font-size="11.6" class="ser" font-weight="normal" text-anchor="middle">d</text>
<text x="629.5" y="113.2" font-size="11.6" class="ser" font-weight="normal" text-anchor="middle">d</text>
<text x="648.5" y="116.2" font-size="11.6" class="ser" font-weight="normal" text-anchor="middle">d</text>
<rect x="86.4" y="420" width="5.4" height="95.2" fill="#fff" stroke="#000" stroke-width="1.0"/>
<line x1="89.1" y1="415.7" x2="89.1" y2="424.3" stroke="#000" stroke-width="1.4"/>
<line x1="86.4" y1="415.7" x2="91.8" y2="415.7" stroke="#000" stroke-width="1.6"/>
<line x1="86.4" y1="424.3" x2="91.8" y2="424.3" stroke="#000" stroke-width="1.4"/>
<rect x="91.8" y="410" width="5.4" height="105.2" fill="#bdbdbd" stroke="#000" stroke-width="1.0"/>
<line x1="94.5" y1="407.4" x2="94.5" y2="412.6" stroke="#000" stroke-width="1.4"/>
<line x1="91.8" y1="407.4" x2="97.2" y2="407.4" stroke="#000" stroke-width="1.6"/>
<line x1="91.8" y1="412.6" x2="97.2" y2="412.6" stroke="#000" stroke-width="1.4"/>
<rect x="97" y="374.6" width="6" height="140.6" fill="#000"/>
<line x1="99.9" y1="365.8" x2="99.9" y2="374.6" stroke="#000" stroke-width="1.4"/>
<line x1="97.2" y1="365.8" x2="102.6" y2="365.8" stroke="#000" stroke-width="1.6"/>
<rect x="105.9" y="451" width="5.4" height="64.2" fill="#fff" stroke="#000" stroke-width="1.0"/>
<line x1="108.6" y1="448.8" x2="108.6" y2="453.2" stroke="#000" stroke-width="1.4"/>
<line x1="105.9" y1="448.8" x2="111.3" y2="448.8" stroke="#000" stroke-width="1.6"/>
<line x1="105.9" y1="453.2" x2="111.3" y2="453.2" stroke="#000" stroke-width="1.4"/>
<rect x="111.3" y="399.2" width="5.4" height="116" fill="#bdbdbd" stroke="#000" stroke-width="1.0"/>
<line x1="114" y1="394.6" x2="114" y2="403.8" stroke="#000" stroke-width="1.4"/>
<line x1="111.3" y1="394.6" x2="116.7" y2="394.6" stroke="#000" stroke-width="1.6"/>
<line x1="111.3" y1="403.8" x2="116.7" y2="403.8" stroke="#000" stroke-width="1.4"/>
<rect x="116.5" y="364.6" width="6" height="150.6" fill="#000"/>
<line x1="119.4" y1="360.4" x2="119.4" y2="364.6" stroke="#000" stroke-width="1.4"/>
<line x1="116.7" y1="360.4" x2="122.1" y2="360.4" stroke="#000" stroke-width="1.6"/>
<rect x="125.4" y="453.2" width="5.4" height="62" fill="#fff" stroke="#000" stroke-width="1.0"/>
<line x1="128.1" y1="451" x2="128.1" y2="455.4" stroke="#000" stroke-width="1.4"/>
<line x1="125.4" y1="451" x2="130.8" y2="451" stroke="#000" stroke-width="1.6"/>
<line x1="125.4" y1="455.4" x2="130.8" y2="455.4" stroke="#000" stroke-width="1.4"/>
<rect x="130.8" y="392.6" width="5.4" height="122.6" fill="#bdbdbd" stroke="#000" stroke-width="1.0"/>
<line x1="133.5" y1="386.8" x2="133.5" y2="398.4" stroke="#000" stroke-width="1.4"/>
<line x1="130.8" y1="386.8" x2="136.2" y2="386.8" stroke="#000" stroke-width="1.6"/>
<line x1="130.8" y1="398.4" x2="136.2" y2="398.4" stroke="#000" stroke-width="1.4"/>
<rect x="136" y="385.4" width="6" height="129.8" fill="#000"/>
<line x1="138.9" y1="382" x2="138.9" y2="385.4" stroke="#000" stroke-width="1.4"/>
<line x1="136.2" y1="382" x2="141.6" y2="382" stroke="#000" stroke-width="1.6"/>
<rect x="164.4" y="391.7" width="5.4" height="123.5" fill="#fff" stroke="#000" stroke-width="1.0"/>
<line x1="167.1" y1="385.2" x2="167.1" y2="398.2" stroke="#000" stroke-width="1.4"/>
<line x1="164.4" y1="385.2" x2="169.8" y2="385.2" stroke="#000" stroke-width="1.6"/>
<line x1="164.4" y1="398.2" x2="169.8" y2="398.2" stroke="#000" stroke-width="1.4"/>
<rect x="169.8" y="384.4" width="5.4" height="130.8" fill="#bdbdbd" stroke="#000" stroke-width="1.0"/>
<line x1="172.5" y1="380.6" x2="172.5" y2="388.2" stroke="#000" stroke-width="1.4"/>
<line x1="169.8" y1="380.6" x2="175.2" y2="380.6" stroke="#000" stroke-width="1.6"/>
<line x1="169.8" y1="388.2" x2="175.2" y2="388.2" stroke="#000" stroke-width="1.4"/>
<rect x="175" y="357.1" width="6" height="158.1" fill="#000"/>
<line x1="177.9" y1="349.7" x2="177.9" y2="357.1" stroke="#000" stroke-width="1.4"/>
<line x1="175.2" y1="349.7" x2="180.6" y2="349.7" stroke="#000" stroke-width="1.6"/>
<rect x="183.9" y="391" width="5.4" height="124.2" fill="#fff" stroke="#000" stroke-width="1.0"/>
<line x1="186.6" y1="387.8" x2="186.6" y2="394.2" stroke="#000" stroke-width="1.4"/>
<line x1="183.9" y1="387.8" x2="189.3" y2="387.8" stroke="#000" stroke-width="1.6"/>
<line x1="183.9" y1="394.2" x2="189.3" y2="394.2" stroke="#000" stroke-width="1.4"/>
<rect x="189.3" y="372.4" width="5.4" height="142.8" fill="#bdbdbd" stroke="#000" stroke-width="1.0"/>
<line x1="192" y1="363.8" x2="192" y2="381" stroke="#000" stroke-width="1.4"/>
<line x1="189.3" y1="363.8" x2="194.7" y2="363.8" stroke="#000" stroke-width="1.6"/>
<line x1="189.3" y1="381" x2="194.7" y2="381" stroke="#000" stroke-width="1.4"/>
<rect x="194.5" y="348.9" width="6" height="166.3" fill="#000"/>
<line x1="197.4" y1="342.9" x2="197.4" y2="348.9" stroke="#000" stroke-width="1.4"/>
<line x1="194.7" y1="342.9" x2="200.1" y2="342.9" stroke="#000" stroke-width="1.6"/>
<rect x="203.4" y="419" width="5.4" height="96.2" fill="#fff" stroke="#000" stroke-width="1.0"/>
<line x1="206.1" y1="413.4" x2="206.1" y2="424.6" stroke="#000" stroke-width="1.4"/>
<line x1="203.4" y1="413.4" x2="208.8" y2="413.4" stroke="#000" stroke-width="1.6"/>
<line x1="203.4" y1="424.6" x2="208.8" y2="424.6" stroke="#000" stroke-width="1.4"/>
<rect x="208.8" y="356.7" width="5.4" height="158.5" fill="#bdbdbd" stroke="#000" stroke-width="1.0"/>
<line x1="211.5" y1="342" x2="211.5" y2="371.4" stroke="#000" stroke-width="1.4"/>
<line x1="208.8" y1="342" x2="214.2" y2="342" stroke="#000" stroke-width="1.6"/>
<line x1="208.8" y1="371.4" x2="214.2" y2="371.4" stroke="#000" stroke-width="1.4"/>
<rect x="214" y="328.2" width="6" height="187" fill="#000"/>
<line x1="216.9" y1="314" x2="216.9" y2="328.2" stroke="#000" stroke-width="1.4"/>
<line x1="214.2" y1="314" x2="219.6" y2="314" stroke="#000" stroke-width="1.6"/>
<line x1="85" y1="288.5" x2="85" y2="515.95" stroke="#000" stroke-width="1.9"/>
<line x1="84.25" y1="515.2" x2="222" y2="515.2" stroke="#000" stroke-width="1.9"/>
<line x1="80" y1="515.2" x2="85" y2="515.2" stroke="#000" stroke-width="1.6"/>
<text x="76.9" y="518.3" font-size="10.6" class="ser b" font-weight="bold" text-anchor="end" textLength="5.55" lengthAdjust="spacingAndGlyphs">0</text>
<line x1="82" y1="492.59" x2="85" y2="492.59" stroke="#000" stroke-width="1.6"/>
<line x1="80" y1="469.98" x2="85" y2="469.98" stroke="#000" stroke-width="1.6"/>
<text x="76.9" y="473.08" font-size="10.6" class="ser b" font-weight="bold" text-anchor="end" textLength="22.2" lengthAdjust="spacingAndGlyphs">1200</text>
<line x1="82" y1="447.37" x2="85" y2="447.37" stroke="#000" stroke-width="1.6"/>
<line x1="80" y1="424.76" x2="85" y2="424.76" stroke="#000" stroke-width="1.6"/>
<text x="76.9" y="427.86" font-size="10.6" class="ser b" font-weight="bold" text-anchor="end" textLength="22.2" lengthAdjust="spacingAndGlyphs">2400</text>
<line x1="82" y1="402.15" x2="85" y2="402.15" stroke="#000" stroke-width="1.6"/>
<line x1="80" y1="379.54" x2="85" y2="379.54" stroke="#000" stroke-width="1.6"/>
<text x="76.9" y="382.64" font-size="10.6" class="ser b" font-weight="bold" text-anchor="end" textLength="22.2" lengthAdjust="spacingAndGlyphs">3600</text>
<line x1="82" y1="356.93" x2="85" y2="356.93" stroke="#000" stroke-width="1.6"/>
<line x1="80" y1="334.32" x2="85" y2="334.32" stroke="#000" stroke-width="1.6"/>
<text x="76.9" y="337.42" font-size="10.6" class="ser b" font-weight="bold" text-anchor="end" textLength="22.2" lengthAdjust="spacingAndGlyphs">4800</text>
<line x1="82" y1="311.71" x2="85" y2="311.71" stroke="#000" stroke-width="1.6"/>
<line x1="80" y1="289.1" x2="85" y2="289.1" stroke="#000" stroke-width="1.6"/>
<text x="76.9" y="292.2" font-size="10.6" class="ser b" font-weight="bold" text-anchor="end" textLength="22.2" lengthAdjust="spacingAndGlyphs">6000</text>
<line x1="85" y1="515.2" x2="85" y2="518.7" stroke="#000" stroke-width="1.6"/>
<line x1="94.75" y1="515.2" x2="94.75" y2="520.5" stroke="#000" stroke-width="1.7"/>
<line x1="104.5" y1="515.2" x2="104.5" y2="518.7" stroke="#000" stroke-width="1.6"/>
<line x1="114.25" y1="515.2" x2="114.25" y2="520.5" stroke="#000" stroke-width="1.7"/>
<line x1="124" y1="515.2" x2="124" y2="518.7" stroke="#000" stroke-width="1.6"/>
<line x1="133.75" y1="515.2" x2="133.75" y2="520.5" stroke="#000" stroke-width="1.7"/>
<line x1="143.5" y1="515.2" x2="143.5" y2="518.7" stroke="#000" stroke-width="1.6"/>
<line x1="153.25" y1="515.2" x2="153.25" y2="520.5" stroke="#000" stroke-width="1.7"/>
<line x1="163" y1="515.2" x2="163" y2="518.7" stroke="#000" stroke-width="1.6"/>
<line x1="172.75" y1="515.2" x2="172.75" y2="520.5" stroke="#000" stroke-width="1.7"/>
<line x1="182.5" y1="515.2" x2="182.5" y2="518.7" stroke="#000" stroke-width="1.6"/>
<line x1="192.25" y1="515.2" x2="192.25" y2="520.5" stroke="#000" stroke-width="1.7"/>
<line x1="202" y1="515.2" x2="202" y2="518.7" stroke="#000" stroke-width="1.6"/>
<line x1="211.75" y1="515.2" x2="211.75" y2="520.5" stroke="#000" stroke-width="1.7"/>
<line x1="221.5" y1="515.2" x2="221.5" y2="518.7" stroke="#000" stroke-width="1.6"/>
<text x="94.1" y="531.9" font-size="10.6" class="ser b" font-weight="bold" text-anchor="middle">S1</text>
<text x="113.6" y="531.9" font-size="10.6" class="ser b" font-weight="bold" text-anchor="middle">S2</text>
<text x="133.1" y="531.9" font-size="10.6" class="ser b" font-weight="bold" text-anchor="middle">S3</text>
<text x="172.1" y="531.9" font-size="10.6" class="ser b" font-weight="bold" text-anchor="middle">S1</text>
<text x="191.6" y="531.9" font-size="10.6" class="ser b" font-weight="bold" text-anchor="middle">S2</text>
<text x="211.1" y="531.9" font-size="10.6" class="ser b" font-weight="bold" text-anchor="middle">S3</text>
<text x="118.5" y="296" font-size="12.6" class="ser b" font-weight="bold" text-anchor="middle">R</text>
<text x="198.3" y="296" font-size="12.6" class="ser b" font-weight="bold" text-anchor="middle">F</text>
<text transform="translate(3.4,289.6) scale(1,1.03)" font-size="12.4" class="sans b" font-weight="bold">D</text>
<text transform="translate(44.7,506.95) rotate(-90)" font-size="14.5" class="ser b" font-weight="bold" textLength="55.4" lengthAdjust="spacingAndGlyphs">Flavonol</text>
<text transform="translate(44.7,444.25) rotate(-90)" font-size="14.5" class="ser b" font-weight="bold" textLength="50.7" lengthAdjust="spacingAndGlyphs">Content</text>
<text transform="translate(44.7,389.55) rotate(-90)" font-size="14.5" class="ser b" font-weight="bold" textLength="25.8" lengthAdjust="spacingAndGlyphs">(μg.</text>
<text transform="translate(44.7,359.15) rotate(-90)" font-size="14.5" class="ser b" font-weight="bold" textLength="6.4" lengthAdjust="spacingAndGlyphs">g</text>
<text transform="translate(36.1,351.35) rotate(-90)" font-size="9.2" class="ser b" font-weight="bold" textLength="5.5" lengthAdjust="spacingAndGlyphs">-1</text>
<text transform="translate(44.7,338.15) rotate(-90)" font-size="14.5" class="ser b" font-weight="bold" textLength="22.1" lengthAdjust="spacingAndGlyphs">DW</text>
<path d="M33,314.7 C35.5,305.8 42.6,305.8 45.1,314.7" fill="none" stroke="#000" stroke-width="1.3"/>
<text x="99.8" y="363" font-size="11.6" class="ser" font-weight="normal" text-anchor="middle">ab</text>
<text x="119" y="358.3" font-size="11.6" class="ser" font-weight="normal" text-anchor="middle">a</text>
<text x="138.9" y="379.4" font-size="11.6" class="ser" font-weight="normal" text-anchor="middle">b</text>
<text x="129.2" y="385.4" font-size="11.6" class="ser" font-weight="normal" text-anchor="middle">bc</text>
<text x="112.7" y="392.6" font-size="11.6" class="ser" font-weight="normal" text-anchor="middle">c</text>
<text x="91" y="403.1" font-size="11.6" class="ser" font-weight="normal" text-anchor="middle">cd</text>
<text x="88.6" y="412.8" font-size="11.6" class="ser" font-weight="normal" text-anchor="middle">d</text>
<text x="107.4" y="446.4" font-size="11.6" class="ser" font-weight="normal" text-anchor="middle">e</text>
<text x="126.8" y="449.1" font-size="11.6" class="ser" font-weight="normal" text-anchor="middle">e</text>
<text x="216.3" y="312.8" font-size="11.6" class="ser" font-weight="normal" text-anchor="middle">a</text>
<text x="196.6" y="340.2" font-size="11.6" class="ser" font-weight="normal" text-anchor="middle">b</text>
<text x="177.4" y="347.4" font-size="11.6" class="ser" font-weight="normal" text-anchor="middle">b</text>
<text x="209.5" y="339" font-size="11.6" class="ser" font-weight="normal" text-anchor="middle">b</text>
<text x="190.5" y="361" font-size="11.6" class="ser" font-weight="normal" text-anchor="middle">c</text>
<text x="171.4" y="378" font-size="11.6" class="ser" font-weight="normal" text-anchor="middle">c</text>
<text x="165.4" y="383.4" font-size="11.6" class="ser" font-weight="normal" text-anchor="middle">d</text>
<text x="184.8" y="385.2" font-size="11.6" class="ser" font-weight="normal" text-anchor="middle">d</text>
<text x="205" y="409.6" font-size="11.6" class="ser" font-weight="normal" text-anchor="middle">e</text>
<rect x="85.2" y="420.4" width="2.6" height="94" fill="#6e6e6e"/>
<rect x="311.3" y="427.3" width="5.4" height="87.9" fill="#fff" stroke="#000" stroke-width="1.0"/>
<line x1="314" y1="423.3" x2="314" y2="431.3" stroke="#000" stroke-width="1.4"/>
<line x1="311.3" y1="423.3" x2="316.7" y2="423.3" stroke="#000" stroke-width="1.6"/>
<line x1="311.3" y1="431.3" x2="316.7" y2="431.3" stroke="#000" stroke-width="1.4"/>
<rect x="316.7" y="416" width="5.4" height="99.2" fill="#bdbdbd" stroke="#000" stroke-width="1.0"/>
<line x1="319.4" y1="409.7" x2="319.4" y2="422.3" stroke="#000" stroke-width="1.4"/>
<line x1="316.7" y1="409.7" x2="322.1" y2="409.7" stroke="#000" stroke-width="1.6"/>
<line x1="316.7" y1="422.3" x2="322.1" y2="422.3" stroke="#000" stroke-width="1.4"/>
<rect x="321.9" y="354.3" width="6" height="160.9" fill="#000"/>
<line x1="324.8" y1="351" x2="324.8" y2="354.3" stroke="#000" stroke-width="1.4"/>
<line x1="322.1" y1="351" x2="327.5" y2="351" stroke="#000" stroke-width="1.6"/>
<rect x="330.7" y="445.4" width="5.4" height="69.8" fill="#fff" stroke="#000" stroke-width="1.0"/>
<line x1="333.4" y1="440.6" x2="333.4" y2="450.2" stroke="#000" stroke-width="1.4"/>
<line x1="330.7" y1="440.6" x2="336.1" y2="440.6" stroke="#000" stroke-width="1.6"/>
<line x1="330.7" y1="450.2" x2="336.1" y2="450.2" stroke="#000" stroke-width="1.4"/>
<rect x="336.1" y="405.2" width="5.4" height="110" fill="#bdbdbd" stroke="#000" stroke-width="1.0"/>
<line x1="338.8" y1="401.4" x2="338.8" y2="409" stroke="#000" stroke-width="1.4"/>
<line x1="336.1" y1="401.4" x2="341.5" y2="401.4" stroke="#000" stroke-width="1.6"/>
<line x1="336.1" y1="409" x2="341.5" y2="409" stroke="#000" stroke-width="1.4"/>
<rect x="341.3" y="337.8" width="6" height="177.4" fill="#000"/>
<line x1="344.2" y1="323.4" x2="344.2" y2="337.8" stroke="#000" stroke-width="1.4"/>
<line x1="341.5" y1="323.4" x2="346.9" y2="323.4" stroke="#000" stroke-width="1.6"/>
<rect x="350.1" y="445.7" width="5.4" height="69.5" fill="#fff" stroke="#000" stroke-width="1.0"/>
<line x1="352.8" y1="443" x2="352.8" y2="448.4" stroke="#000" stroke-width="1.4"/>
<line x1="350.1" y1="443" x2="355.5" y2="443" stroke="#000" stroke-width="1.6"/>
<line x1="350.1" y1="448.4" x2="355.5" y2="448.4" stroke="#000" stroke-width="1.4"/>
<rect x="355.5" y="396.6" width="5.4" height="118.6" fill="#bdbdbd" stroke="#000" stroke-width="1.0"/>
<line x1="358.2" y1="389.8" x2="358.2" y2="403.4" stroke="#000" stroke-width="1.4"/>
<line x1="355.5" y1="389.8" x2="360.9" y2="389.8" stroke="#000" stroke-width="1.6"/>
<line x1="355.5" y1="403.4" x2="360.9" y2="403.4" stroke="#000" stroke-width="1.4"/>
<rect x="360.7" y="343.5" width="6" height="171.7" fill="#000"/>
<line x1="363.6" y1="334.2" x2="363.6" y2="343.5" stroke="#000" stroke-width="1.4"/>
<line x1="360.9" y1="334.2" x2="366.3" y2="334.2" stroke="#000" stroke-width="1.6"/>
<rect x="388.9" y="415.3" width="5.4" height="99.9" fill="#fff" stroke="#000" stroke-width="1.0"/>
<line x1="391.6" y1="411.6" x2="391.6" y2="419" stroke="#000" stroke-width="1.4"/>
<line x1="388.9" y1="411.6" x2="394.3" y2="411.6" stroke="#000" stroke-width="1.6"/>
<line x1="388.9" y1="419" x2="394.3" y2="419" stroke="#000" stroke-width="1.4"/>
<rect x="394.3" y="404" width="5.4" height="111.2" fill="#bdbdbd" stroke="#000" stroke-width="1.0"/>
<line x1="397" y1="400.7" x2="397" y2="407.3" stroke="#000" stroke-width="1.4"/>
<line x1="394.3" y1="400.7" x2="399.7" y2="400.7" stroke="#000" stroke-width="1.6"/>
<line x1="394.3" y1="407.3" x2="399.7" y2="407.3" stroke="#000" stroke-width="1.4"/>
<rect x="399.5" y="392" width="6" height="123.2" fill="#000"/>
<line x1="402.4" y1="383" x2="402.4" y2="392" stroke="#000" stroke-width="1.4"/>
<line x1="399.7" y1="383" x2="405.1" y2="383" stroke="#000" stroke-width="1.6"/>
<rect x="408.3" y="415.3" width="5.4" height="99.9" fill="#fff" stroke="#000" stroke-width="1.0"/>
<line x1="411" y1="411.6" x2="411" y2="419" stroke="#000" stroke-width="1.4"/>
<line x1="408.3" y1="411.6" x2="413.7" y2="411.6" stroke="#000" stroke-width="1.6"/>
<line x1="408.3" y1="419" x2="413.7" y2="419" stroke="#000" stroke-width="1.4"/>
<rect x="413.7" y="396.6" width="5.4" height="118.6" fill="#bdbdbd" stroke="#000" stroke-width="1.0"/>
<line x1="416.4" y1="390.3" x2="416.4" y2="402.9" stroke="#000" stroke-width="1.4"/>
<line x1="413.7" y1="390.3" x2="419.1" y2="390.3" stroke="#000" stroke-width="1.6"/>
<line x1="413.7" y1="402.9" x2="419.1" y2="402.9" stroke="#000" stroke-width="1.4"/>
<rect x="418.9" y="381.5" width="6" height="133.7" fill="#000"/>
<line x1="421.8" y1="375.5" x2="421.8" y2="381.5" stroke="#000" stroke-width="1.4"/>
<line x1="419.1" y1="375.5" x2="424.5" y2="375.5" stroke="#000" stroke-width="1.6"/>
<rect x="427.7" y="429.3" width="5.4" height="85.9" fill="#fff" stroke="#000" stroke-width="1.0"/>
<line x1="430.4" y1="426.6" x2="430.4" y2="432" stroke="#000" stroke-width="1.4"/>
<line x1="427.7" y1="426.6" x2="433.1" y2="426.6" stroke="#000" stroke-width="1.6"/>
<line x1="427.7" y1="432" x2="433.1" y2="432" stroke="#000" stroke-width="1.4"/>
<rect x="433.1" y="387.2" width="5.4" height="128" fill="#bdbdbd" stroke="#000" stroke-width="1.0"/>
<line x1="435.8" y1="377.5" x2="435.8" y2="396.9" stroke="#000" stroke-width="1.4"/>
<line x1="433.1" y1="377.5" x2="438.5" y2="377.5" stroke="#000" stroke-width="1.6"/>
<line x1="433.1" y1="396.9" x2="438.5" y2="396.9" stroke="#000" stroke-width="1.4"/>
<rect x="438.3" y="364.4" width="6" height="150.8" fill="#000"/>
<line x1="441.2" y1="361.8" x2="441.2" y2="364.4" stroke="#000" stroke-width="1.4"/>
<line x1="438.5" y1="361.8" x2="443.9" y2="361.8" stroke="#000" stroke-width="1.6"/>
<line x1="310.1" y1="288.5" x2="310.1" y2="515.95" stroke="#000" stroke-width="1.9"/>
<line x1="309.35" y1="515.2" x2="446.2" y2="515.2" stroke="#000" stroke-width="1.9"/>
<line x1="305.1" y1="515.2" x2="310.1" y2="515.2" stroke="#000" stroke-width="1.6"/>
<text x="299.2" y="518.3" font-size="10.6" class="ser b" font-weight="bold" text-anchor="end" textLength="5.55" lengthAdjust="spacingAndGlyphs">0</text>
<line x1="307.1" y1="492.59" x2="310.1" y2="492.59" stroke="#000" stroke-width="1.6"/>
<line x1="305.1" y1="469.98" x2="310.1" y2="469.98" stroke="#000" stroke-width="1.6"/>
<text x="299.2" y="473.08" font-size="10.6" class="ser b" font-weight="bold" text-anchor="end" textLength="22.2" lengthAdjust="spacingAndGlyphs">2000</text>
<line x1="307.1" y1="447.37" x2="310.1" y2="447.37" stroke="#000" stroke-width="1.6"/>
<line x1="305.1" y1="424.76" x2="310.1" y2="424.76" stroke="#000" stroke-width="1.6"/>
<text x="299.2" y="427.86" font-size="10.6" class="ser b" font-weight="bold" text-anchor="end" textLength="22.2" lengthAdjust="spacingAndGlyphs">4000</text>
<line x1="307.1" y1="402.15" x2="310.1" y2="402.15" stroke="#000" stroke-width="1.6"/>
<line x1="305.1" y1="379.54" x2="310.1" y2="379.54" stroke="#000" stroke-width="1.6"/>
<text x="299.2" y="382.64" font-size="10.6" class="ser b" font-weight="bold" text-anchor="end" textLength="22.2" lengthAdjust="spacingAndGlyphs">6000</text>
<line x1="307.1" y1="356.93" x2="310.1" y2="356.93" stroke="#000" stroke-width="1.6"/>
<line x1="305.1" y1="334.32" x2="310.1" y2="334.32" stroke="#000" stroke-width="1.6"/>
<text x="299.2" y="337.42" font-size="10.6" class="ser b" font-weight="bold" text-anchor="end" textLength="22.2" lengthAdjust="spacingAndGlyphs">8000</text>
<line x1="307.1" y1="311.71" x2="310.1" y2="311.71" stroke="#000" stroke-width="1.6"/>
<line x1="305.1" y1="289.1" x2="310.1" y2="289.1" stroke="#000" stroke-width="1.6"/>
<text x="299.2" y="292.2" font-size="10.6" class="ser b" font-weight="bold" text-anchor="end" textLength="27.75" lengthAdjust="spacingAndGlyphs">10000</text>
<line x1="310.1" y1="515.2" x2="310.1" y2="518.7" stroke="#000" stroke-width="1.6"/>
<line x1="319.8" y1="515.2" x2="319.8" y2="520.5" stroke="#000" stroke-width="1.7"/>
<line x1="329.5" y1="515.2" x2="329.5" y2="518.7" stroke="#000" stroke-width="1.6"/>
<line x1="339.2" y1="515.2" x2="339.2" y2="520.5" stroke="#000" stroke-width="1.7"/>
<line x1="348.9" y1="515.2" x2="348.9" y2="518.7" stroke="#000" stroke-width="1.6"/>
<line x1="358.6" y1="515.2" x2="358.6" y2="520.5" stroke="#000" stroke-width="1.7"/>
<line x1="368.3" y1="515.2" x2="368.3" y2="518.7" stroke="#000" stroke-width="1.6"/>
<line x1="378" y1="515.2" x2="378" y2="520.5" stroke="#000" stroke-width="1.7"/>
<line x1="387.7" y1="515.2" x2="387.7" y2="518.7" stroke="#000" stroke-width="1.6"/>
<line x1="397.4" y1="515.2" x2="397.4" y2="520.5" stroke="#000" stroke-width="1.7"/>
<line x1="407.1" y1="515.2" x2="407.1" y2="518.7" stroke="#000" stroke-width="1.6"/>
<line x1="416.8" y1="515.2" x2="416.8" y2="520.5" stroke="#000" stroke-width="1.7"/>
<line x1="426.5" y1="515.2" x2="426.5" y2="518.7" stroke="#000" stroke-width="1.6"/>
<line x1="436.2" y1="515.2" x2="436.2" y2="520.5" stroke="#000" stroke-width="1.7"/>
<line x1="445.9" y1="515.2" x2="445.9" y2="518.7" stroke="#000" stroke-width="1.6"/>
<text x="319" y="531.9" font-size="10.6" class="ser b" font-weight="bold" text-anchor="middle">S1</text>
<text x="338.4" y="531.9" font-size="10.6" class="ser b" font-weight="bold" text-anchor="middle">S2</text>
<text x="357.8" y="531.9" font-size="10.6" class="ser b" font-weight="bold" text-anchor="middle">S3</text>
<text x="396.6" y="531.9" font-size="10.6" class="ser b" font-weight="bold" text-anchor="middle">S1</text>
<text x="416" y="531.9" font-size="10.6" class="ser b" font-weight="bold" text-anchor="middle">S2</text>
<text x="435.4" y="531.9" font-size="10.6" class="ser b" font-weight="bold" text-anchor="middle">S3</text>
<text x="345.5" y="294.9" font-size="12.6" class="ser b" font-weight="bold" text-anchor="middle">R</text>
<text x="421" y="294.8" font-size="12.6" class="ser b" font-weight="bold" text-anchor="middle">F</text>
<text transform="translate(246.4,283.3) scale(1,1.03)" font-size="12.4" class="sans b" font-weight="bold">E</text>
<text transform="translate(266.8,503.55) rotate(-90)" font-size="14.5" class="ser b" font-weight="bold" textLength="61.4" lengthAdjust="spacingAndGlyphs">Flavonoid</text>
<text transform="translate(266.8,434.35) rotate(-90)" font-size="14.5" class="ser b" font-weight="bold" textLength="48.3" lengthAdjust="spacingAndGlyphs">Content</text>
<text transform="translate(266.8,382.05) rotate(-90)" font-size="14.5" class="ser b" font-weight="bold" textLength="25.8" lengthAdjust="spacingAndGlyphs">(μg.</text>
<text transform="translate(266.8,351.65) rotate(-90)" font-size="14.5" class="ser b" font-weight="bold" textLength="6.4" lengthAdjust="spacingAndGlyphs">g</text>
<text transform="translate(258.2,343.85) rotate(-90)" font-size="9.2" class="ser b" font-weight="bold" textLength="5.5" lengthAdjust="spacingAndGlyphs">-1</text>
<text transform="translate(266.8,330.65) rotate(-90)" font-size="14.5" class="ser b" font-weight="bold" textLength="22.1" lengthAdjust="spacingAndGlyphs">DW</text>
<text transform="translate(266.8,307.25) rotate(-90)" font-size="14.5" class="ser b" font-weight="bold" textLength="6.3" lengthAdjust="spacingAndGlyphs">)</text>
<text x="324.2" y="348.6" font-size="11.6" class="ser" font-weight="normal" text-anchor="middle">a</text>
<text x="343.4" y="321.6" font-size="11.6" class="ser" font-weight="normal" text-anchor="middle">a</text>
<text x="363.9" y="332.4" font-size="11.6" class="ser" font-weight="normal" text-anchor="middle">a</text>
<text x="357.3" y="387.4" font-size="11.6" class="ser" font-weight="normal" text-anchor="middle">b</text>
<text x="335.3" y="398.6" font-size="11.6" class="ser" font-weight="normal" text-anchor="middle">bc</text>
<text x="318.5" y="407.5" font-size="11.6" class="ser" font-weight="normal" text-anchor="middle">c</text>
<text x="314" y="420.4" font-size="11.6" class="ser" font-weight="normal" text-anchor="middle">d</text>
<text x="332.6" y="437.5" font-size="11.6" class="ser" font-weight="normal" text-anchor="middle">e</text>
<text x="352.1" y="439.8" font-size="11.6" class="ser" font-weight="normal" text-anchor="middle">e</text>
<text x="441.3" y="359.4" font-size="11.6" class="ser" font-weight="normal" text-anchor="middle">a</text>
<text x="421.8" y="373.4" font-size="11.6" class="ser" font-weight="normal" text-anchor="middle">b</text>
<text x="402.4" y="380.6" font-size="11.6" class="ser" font-weight="normal" text-anchor="middle">b</text>
<text x="434.7" y="375" font-size="11.6" class="ser" font-weight="normal" text-anchor="middle">b</text>
<text x="412.5" y="388.2" font-size="11.6" class="ser" font-weight="normal" text-anchor="middle">bc</text>
<text x="395.7" y="398.1" font-size="11.6" class="ser" font-weight="normal" text-anchor="middle">c</text>
<text x="390.2" y="409" font-size="11.6" class="ser" font-weight="normal" text-anchor="middle">d</text>
<text x="410" y="409" font-size="11.6" class="ser" font-weight="normal" text-anchor="middle">d</text>
<text x="429.7" y="423.6" font-size="11.6" class="ser" font-weight="normal" text-anchor="middle">e</text>
<rect x="539.35" y="412.1" width="13.9" height="4.5" fill="#fff" stroke="#000" stroke-width="1.1"/>
<text x="555" y="416.9" font-size="10.9" class="ser b" font-weight="bold" text-anchor="start">CK</text>
<rect x="577.05" y="412.1" width="13.9" height="4.5" fill="#bdbdbd" stroke="#000" stroke-width="1.1"/>
<text x="592.6" y="416.9" font-size="10.9" class="ser b" font-weight="bold" text-anchor="start">NIT</text>
<rect x="617.45" y="412.1" width="13.9" height="4.5" fill="#000" stroke="#000" stroke-width="1.1"/>
<text x="633" y="416.9" font-size="10.9" class="ser b" font-weight="bold" text-anchor="start">RIT</text>
</svg>
</body></html>
